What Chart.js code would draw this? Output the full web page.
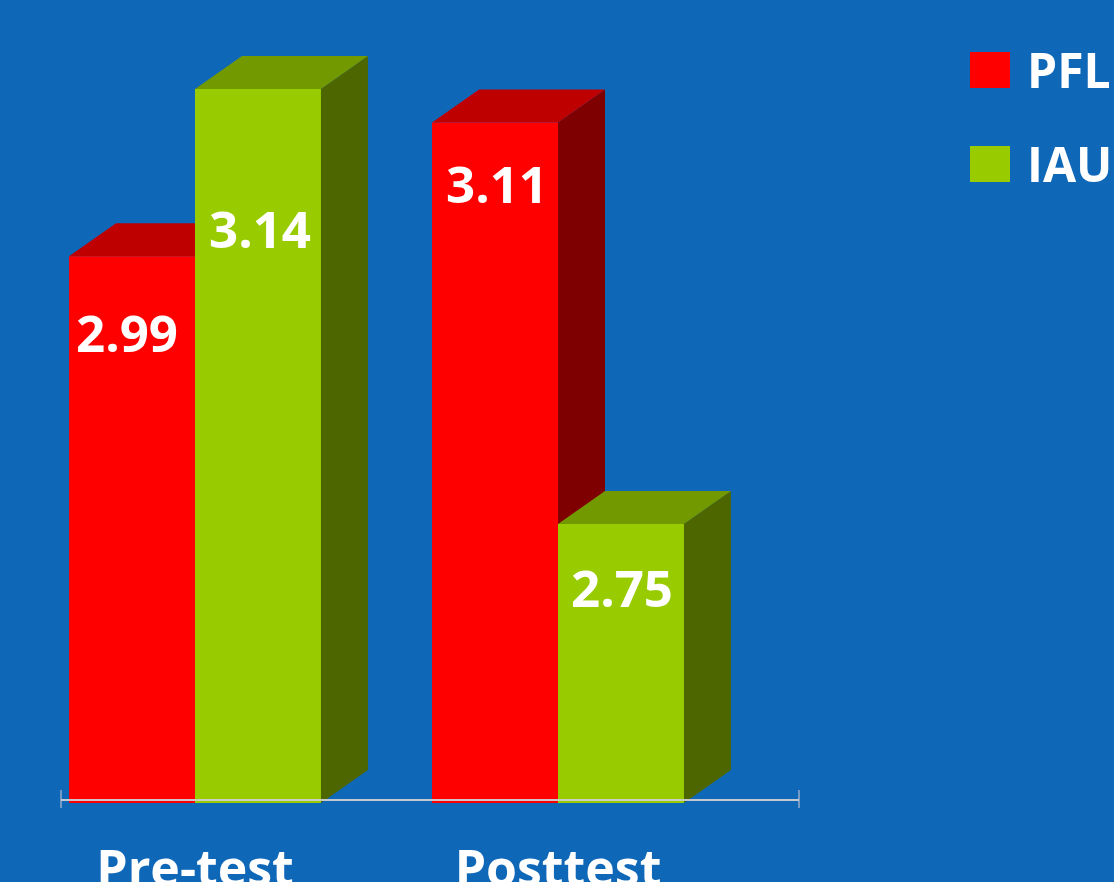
<!DOCTYPE html>
<html>
<head>
<meta charset="utf-8">
<script src="https://cdn.jsdelivr.net/npm/chart.js@4.4.1/dist/chart.umd.min.js"></script>
<style>
  html, body { margin: 0; padding: 0; background: #0F67B8; overflow: hidden; }
  #wrap { width: 1114px; height: 882px; }
</style>
</head>
<body>
<div id="wrap"><canvas id="chart" width="1114" height="882"></canvas></div>
<script>
// Mean scores per group, before and after the course
const categories = ['Pre-test', 'Posttest'];
const seriesNames = ['PFL', 'IAU'];
const pflValues = [2.99, 3.11];
const iauValues = [3.14, 2.75];

// Value axis range
const axisMin = 2.5;
const axisMax = 3.2;

// Face colours for each series: front, top, side
const frontColors = ['#FF0000', '#99CC00'];
const topColors = ['#BF0000', '#739900'];
const sideColors = ['#7F0000', '#4D6600'];

const FONT = '"Open Sans", "Noto Sans", "DejaVu Sans", sans-serif';

// Draws the extruded top and side faces behind each bar, the floor line,
// the value labels, the category labels and the legend.
const bar3d = {
  id: 'bar3d',
  beforeDatasetsDraw(chart, args, opts) {
    const ctx = chart.ctx;
    const dx = opts.depthX, dy = opts.depthY;
    const floor = chart.chartArea.bottom;
    ctx.save();
    chart.data.labels.forEach((_, i) => {
      chart.data.datasets.forEach((ds, d) => {
        const el = chart.getDatasetMeta(d).data[i];
        const { x, y, base, width } = el.getProps(['x', 'y', 'base', 'width'], true);
        const b = Math.min(base, floor);
        const l = x - width / 2, r = x + width / 2;
        // side face
        ctx.fillStyle = sideColors[d];
        ctx.beginPath();
        ctx.moveTo(r, y);
        ctx.lineTo(r + dx, y - dy);
        ctx.lineTo(r + dx, b - dy);
        ctx.lineTo(r, b);
        ctx.closePath();
        ctx.fill();
        // top face
        ctx.fillStyle = topColors[d];
        ctx.beginPath();
        ctx.moveTo(l, y);
        ctx.lineTo(l + dx, y - dy);
        ctx.lineTo(r + dx, y - dy);
        ctx.lineTo(r, y);
        ctx.closePath();
        ctx.fill();
      });
    });
    ctx.restore();
  },
  afterDatasetsDraw(chart, args, opts) {
    const ctx = chart.ctx;
    const area = chart.chartArea;
    ctx.save();

    // floor line with end ticks
    const lineY = area.bottom - 3;
    const x0 = area.left + opts.depthX + 0.5;
    const x1 = area.right + opts.depthX + 12.5;
    ctx.strokeStyle = 'rgba(205,205,210,0.95)';
    ctx.lineWidth = 2;
    ctx.beginPath();
    ctx.moveTo(x0, lineY);
    ctx.lineTo(x1, lineY);
    ctx.stroke();
    ctx.strokeStyle = 'rgba(200,200,210,0.55)';
    ctx.beginPath();
    ctx.moveTo(x0, lineY - 10);
    ctx.lineTo(x0, lineY + 8);
    ctx.moveTo(x1, lineY - 10);
    ctx.lineTo(x1, lineY + 8);
    ctx.stroke();

    // value labels inside the front faces
    ctx.fillStyle = '#FFFFFF';
    ctx.font = 'bold 51px ' + FONT;
    ctx.textAlign = 'center';
    ctx.textBaseline = 'alphabetic';
    chart.data.datasets.forEach((ds, d) => {
      chart.getDatasetMeta(d).data.forEach((el, i) => {
        const { x, y } = el.getProps(['x', 'y'], true);
        ctx.fillText(ds.data[i].toFixed(2), x + opts.labelShift[d][i], y + opts.labelDrop[d][i]);
      });
    });
    ctx.restore();
  },
  afterDraw(chart, args, opts) {
    const ctx = chart.ctx;
    const xScale = chart.scales.x;
    ctx.save();
    ctx.fillStyle = '#FFFFFF';

    // category labels
    ctx.font = 'bold 50px ' + FONT;
    ctx.textAlign = 'center';
    ctx.textBaseline = 'alphabetic';
    chart.data.labels.forEach((lab, i) => {
      ctx.fillText(lab, xScale.getPixelForValue(i), chart.chartArea.bottom + 83);
    });

    // legend
    const lg = opts.legend;
    ctx.font = 'bold 48px ' + FONT;
    ctx.textAlign = 'left';
    chart.data.datasets.forEach((ds, d) => {
      const top = lg.y + d * lg.gap;
      ctx.fillStyle = frontColors[d];
      ctx.fillRect(lg.x, top, lg.boxW, lg.boxH);
      ctx.fillStyle = '#FFFFFF';
      ctx.fillText(ds.label, lg.x + lg.textGap, top + lg.boxH);
    });
    ctx.restore();
  }
};

new Chart(document.getElementById('chart'), {
  type: 'bar',
  data: {
    labels: categories,
    datasets: [
      { label: seriesNames[0], data: pflValues, backgroundColor: frontColors[0] },
      { label: seriesNames[1], data: iauValues, backgroundColor: frontColors[1] }
    ]
  },
  options: {
    responsive: false,
    devicePixelRatio: 1,
    animation: false,
    events: [],
    layout: { padding: { left: 13.5, right: 374.5, top: 22, bottom: 79 } },
    datasets: {
      bar: { categoryPercentage: 0.694, barPercentage: 1.0, borderWidth: 0, base: axisMin }
    },
    scales: {
      x: { display: false },
      y: { display: false, min: axisMin, max: axisMax }
    },
    plugins: {
      legend: { display: false },
      tooltip: { enabled: false },
      bar3d: {
        depthX: 47,
        depthY: 33,
        labelDrop: [[96, 81], [159, 83]],
        labelShift: [[-5, 2], [2, 1]],
        legend: { x: 970, y: 52, boxW: 40, boxH: 36, gap: 94, textGap: 57 }
      }
    }
  },
  plugins: [bar3d]
});
</script>
</body>
</html>
